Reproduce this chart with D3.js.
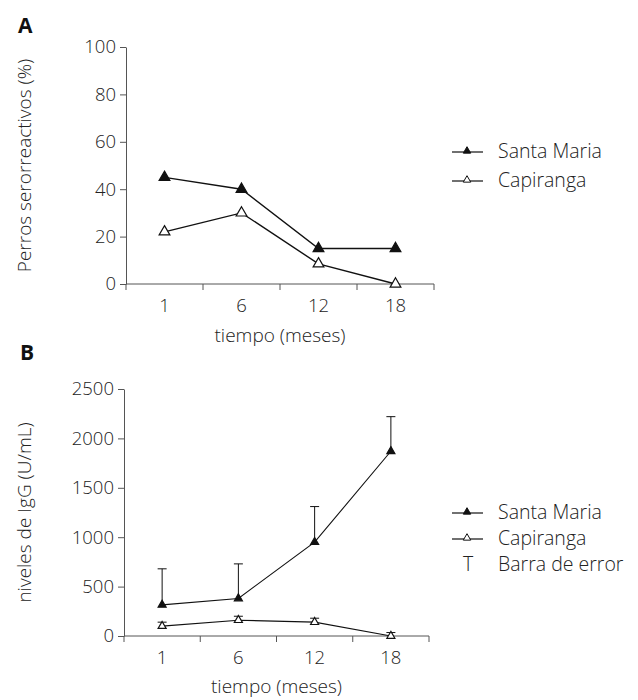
<!DOCTYPE html>
<html lang="es">
<head>
<meta charset="utf-8">
<script src="https://d3js.org/d3.v7.min.js"></script>
<style>
  body { margin: 0; background: #fff; }
  text { font-family: "Open Sans", "DejaVu Sans", sans-serif; font-weight: 300; fill: #222; }
  .axis path, .axis line { stroke: #555; }
  .axis text { font-size: 18.5px; fill: #222; font-family: "Open Sans", "DejaVu Sans", sans-serif; }
</style>
</head>
<body>
<svg width="638" height="700" id="fig"></svg>
<script>
  var meses = ["1", "6", "12", "18"];

  // panel A: perros serorreactivos (%)
  var santaMariaPct = [45, 40, 15, 15];
  var capirangaPct = [22, 30, 8.5, 0];
  var ticksA = [0, 20, 40, 60, 80, 100];

  // panel B: niveles de IgG (U/mL)
  var santaMariaIgG = [315, 380, 950, 1870];
  var santaMariaErr = [365, 350, 360, 350];
  var capirangaIgG = [100, 160, 140, 0];
  var capirangaErr = [40, 40, 40, 35];
  var ticksB = [0, 500, 1000, 1500, 2000, 2500];

  var series = ["Santa Maria", "Capiranga"];

  var svg = d3.select("#fig");

  function panel(cfg) {
    var g = svg.append("g").attr("transform", `translate(${cfg.left}, ${cfg.top})`);
    var x = d3.scaleBand().domain(meses).range([0, cfg.width]);
    var y = d3.scaleLinear().domain(cfg.domain).range([cfg.height, 0]);

    var ax = g.append("g").attr("class", "axis")
      .attr("transform", `translate(0, ${cfg.height})`)
      .call(d3.axisBottom(x).tickSize(0).tickPadding(15));
    ax.select(".domain").remove();
    ax.append("path").attr("d", `M0,0H${cfg.width}`).attr("stroke", "#555").attr("fill", "none");
    // ticks sit on the band edges, not under the labels
    ax.selectAll(".edge").data(d3.range(meses.length + 1)).enter().append("line")
      .attr("x1", function(i) { return i * x.step(); })
      .attr("x2", function(i) { return i * x.step(); })
      .attr("y1", 0).attr("y2", 6);

    g.append("g").attr("class", "axis")
      .call(d3.axisLeft(y).tickValues(cfg.ticks).tickFormat(d3.format("d"))
        .tickSize(6).tickSizeOuter(0).tickPadding(4));

    g.append("text").attr("x", cfg.width / 2).attr("y", cfg.height + cfg.xTitleDy)
      .attr("text-anchor", "middle").style("font-size", "19px").text("tiempo (meses)");
    g.append("text").attr("transform", `translate(${31 - cfg.left}, ${cfg.height / 2}) rotate(-90)`)
      .attr("text-anchor", "middle").style("font-size", "19px").text(cfg.yTitle);

    var cx = function(d, i) { return x(meses[i]) + x.bandwidth() / 2; };

    // error bars (up only)
    if (cfg.errs) {
      cfg.values.forEach(function(vals, s) {
        var errs = cfg.errs[s];
        var eb = g.append("g");
        eb.selectAll("line.v").data(vals).enter().append("line")
          .attr("x1", cx).attr("x2", cx)
          .attr("y1", function(d) { return y(d); })
          .attr("y2", function(d, i) { return y(d + errs[i]); })
          .attr("stroke", "#111").attr("stroke-width", 1);
        eb.selectAll("line.c").data(vals).enter().append("line")
          .attr("x1", function(d, i) { return cx(d, i) - 4.5; })
          .attr("x2", function(d, i) { return cx(d, i) + 4.5; })
          .attr("y1", function(d, i) { return y(d + errs[i]); })
          .attr("y2", function(d, i) { return y(d + errs[i]); })
          .attr("stroke", "#111").attr("stroke-width", 1);
      });
    }

    var line = d3.line().x(function(d, i) { return cx(d, i); }).y(function(d) { return y(d); });
    var sym = d3.symbol().type(d3.symbolTriangle).size(cfg.symSize);

    cfg.values.forEach(function(vals, s) {
      g.append("path").datum(vals).attr("d", line)
        .attr("fill", "none").attr("stroke", "#111").attr("stroke-width", cfg.lw);
      g.selectAll(".m" + s).data(vals).enter().append("path")
        .attr("d", sym)
        .attr("transform", function(d, i) { return `translate(${cx(d, i)}, ${y(d)})`; })
        .attr("fill", s === 0 ? "#111" : "#fff")
        .attr("stroke", "#111").attr("stroke-width", 1.2);
    });

    // legend
    var lg = svg.append("g").attr("transform", `translate(452, ${cfg.legendY})`);
    var lsym = d3.symbol().type(d3.symbolTriangle).size(24);
    var gap = cfg.legendGap;
    series.forEach(function(name, s) {
      var r = lg.append("g").attr("transform", `translate(0, ${s * gap})`);
      r.append("line").attr("x1", 0).attr("x2", 31).attr("y1", 0).attr("y2", 0)
        .attr("stroke", "#111").attr("stroke-width", 1.2);
      r.append("path").attr("d", lsym).attr("transform", "translate(15, -1)")
        .attr("fill", s === 0 ? "#111" : "#fff").attr("stroke", "#111").attr("stroke-width", 1);
      r.append("text").attr("x", 46).attr("y", 6).style("font-size", "19.5px").text(name);
    });
    if (cfg.errs) {
      var r = lg.append("g").attr("transform", `translate(0, ${2 * gap})`);
      r.append("text").attr("x", 16).attr("y", 6).attr("text-anchor", "middle")
        .style("font-size", "19.5px").text("T");
      r.append("text").attr("x", 46).attr("y", 6).style("font-size", "19.5px").text("Barra de error");
    }
  }

  panel({
    left: 126, top: 47, width: 308, height: 237, domain: [0, 100], ticks: ticksA,
    values: [santaMariaPct, capirangaPct], symSize: 50, lw: 1.4,
    yTitle: "Perros serorreactivos (%)", xTitleDy: 58, legendY: 152, legendGap: 29
  });

  panel({
    left: 124, top: 389, width: 305, height: 247, domain: [0, 2500], ticks: ticksB,
    values: [santaMariaIgG, capirangaIgG], errs: [santaMariaErr, capirangaErr],
    symSize: 28, lw: 1.1,
    yTitle: "niveles de IgG (U/mL)", xTitleDy: 57, legendY: 513, legendGap: 26
  });

  svg.append("text").attr("x", 18).attr("y", 33).style("font-size", "21px")
    .style("font-weight", "bold").style("fill", "#111").text("A");
  svg.append("text").attr("x", 20).attr("y", 360).style("font-size", "21px")
    .style("font-weight", "bold").style("fill", "#111").text("B");
</script>
</body>
</html>
